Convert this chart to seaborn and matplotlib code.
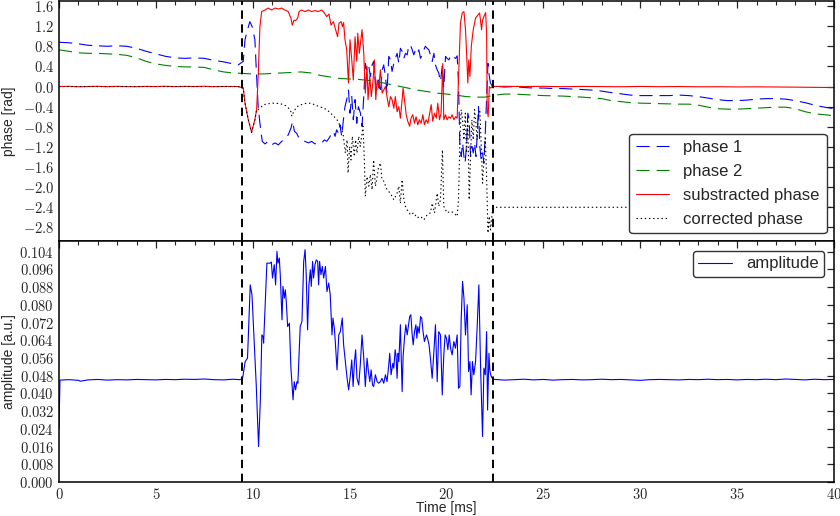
import numpy as np
import pandas as pd
import matplotlib
matplotlib.use("Agg")
import matplotlib.pyplot as plt
import seaborn as sns
from matplotlib.ticker import FuncFormatter, MultipleLocator

# ---------------- data ----------------
amp_t = [0.00, 0.05, 0.5, 1.0, 1.1, 1.5, 2.0, 2.5, 3.0, 3.5, 4.0, 4.5, 5.0, 5.5, 6.0, 6.5, 7.0, 7.5,
         8.0, 8.5, 9.0, 9.3, 9.47,
         9.61, 9.73, 9.87, 9.96, 10.04, 10.18, 10.30, 10.39, 10.47, 10.53, 10.56, 10.65, 10.73, 10.90,
         10.96, 11.02, 11.11, 11.18, 11.25, 11.30, 11.37, 11.42, 11.47, 11.51, 11.56, 11.63, 11.68, 11.73,
         11.80, 11.89, 11.97, 12.04, 12.08, 12.14, 12.21, 12.28, 12.33, 12.40, 12.45, 12.54, 12.63, 12.70,
         12.76, 12.83, 12.90, 12.97, 13.02, 13.09, 13.14, 13.21, 13.28, 13.35, 13.40, 13.45, 13.52, 13.59,
         13.66, 13.75, 13.83, 13.92, 14.00, 14.09, 14.14, 14.21, 14.26, 14.35, 14.44, 14.52, 14.62, 14.69,
         14.78, 14.87, 14.95, 15.04, 15.11, 15.18, 15.25, 15.31, 15.38, 15.47, 15.55, 15.64, 15.73, 15.81,
         15.90, 15.97, 16.04, 16.11, 16.18, 16.24, 16.33, 16.42, 16.50, 16.59, 16.67, 16.76, 16.85, 16.93,
         17.02, 17.07, 17.14, 17.23, 17.28, 17.35, 17.40, 17.45, 17.50, 17.54, 17.62, 17.71, 17.76, 17.83,
         17.90, 17.97, 18.05, 18.10, 18.16, 18.23, 18.28, 18.35, 18.42, 18.47, 18.52, 18.59, 18.66, 18.72,
         18.79, 18.86, 18.91, 18.97, 19.04, 19.10, 19.17, 19.26, 19.35, 19.43, 19.52, 19.60, 19.69, 19.78,
         19.86, 19.93, 20.00, 20.07, 20.14, 20.21, 20.29, 20.38, 20.46, 20.55, 20.62, 20.69, 20.76, 20.83,
         20.90, 20.98, 21.07, 21.14, 21.21, 21.27, 21.34, 21.41, 21.50, 21.58, 21.67, 21.76, 21.86, 21.93,
         22.00, 22.07, 22.12, 22.19, 22.24, 22.31, 22.39,
         22.5, 23.0, 23.5, 24.0, 24.5, 25.0, 25.5, 26.0, 26.5, 27.0, 27.5, 28.0, 28.5, 29.0, 29.5, 30.0,
         30.5, 31.0, 31.5, 32.0, 32.5, 33.0, 33.5, 34.0, 34.5, 35.0, 35.5, 36.0, 36.5, 37.0, 37.5, 38.0,
         38.5, 39.0, 39.5, 40.0]
amp_v = [0.0240, 0.0460, 0.0462, 0.0459, 0.0455, 0.0461, 0.0463, 0.0460, 0.0462, 0.0461, 0.0463, 0.0462,
         0.0461, 0.0463, 0.0462, 0.0464, 0.0463, 0.0465, 0.0462, 0.0461, 0.0464, 0.0462, 0.0465,
         0.0544, 0.0559, 0.0890, 0.0845, 0.0694, 0.0438, 0.0160, 0.0363, 0.0664, 0.0657, 0.0627, 0.0815,
         0.0988, 0.0988, 0.0993, 0.0921, 0.0981, 0.0890, 0.1041, 0.0988, 0.1011, 0.0936, 0.0815, 0.0732,
         0.0883, 0.0830, 0.0868, 0.0815, 0.0702, 0.0717, 0.0514, 0.0423, 0.0371, 0.0453, 0.0416, 0.0453,
         0.0446, 0.0589, 0.0702, 0.0725, 0.0996, 0.1049, 0.0936, 0.0687, 0.0890, 0.0958, 0.0883, 0.0996,
         0.0921, 0.0981, 0.1003, 0.0996, 0.0890, 0.0996, 0.0936, 0.0973, 0.0921, 0.0973, 0.0860, 0.0898,
         0.0845, 0.0664, 0.0740, 0.0694, 0.0634, 0.0506, 0.0664, 0.0679, 0.0740, 0.0619, 0.0544, 0.0468,
         0.0416, 0.0484, 0.0551, 0.0431, 0.0544, 0.0597, 0.0468, 0.0438, 0.0529, 0.0664, 0.0559, 0.0431,
         0.0559, 0.0499, 0.0453, 0.0506, 0.0438, 0.0431, 0.0484, 0.0453, 0.0446, 0.0453, 0.0468, 0.0446,
         0.0484, 0.0453, 0.0529, 0.0581, 0.0484, 0.0536, 0.0514, 0.0597, 0.0566, 0.0468, 0.0581, 0.0544,
         0.0710, 0.0408, 0.0566, 0.0649, 0.0710, 0.0664, 0.0717, 0.0747, 0.0755, 0.0664, 0.0619, 0.0679,
         0.0710, 0.0649, 0.0702, 0.0672, 0.0747, 0.0740, 0.0679, 0.0634, 0.0649, 0.0664, 0.0642, 0.0619,
         0.0559, 0.0468, 0.0589, 0.0710, 0.0453, 0.0679, 0.0664, 0.0393, 0.0574, 0.0664, 0.0649, 0.0597,
         0.0664, 0.0604, 0.0574, 0.0634, 0.0604, 0.0664, 0.0423, 0.0431, 0.0740, 0.0906, 0.0830, 0.0664,
         0.0800, 0.0499, 0.0544, 0.0393, 0.0544, 0.0484, 0.0544, 0.0694, 0.0890, 0.0514, 0.0205, 0.0514,
         0.0484, 0.0679, 0.0325, 0.0581, 0.0499, 0.0476, 0.0465,
         0.0463, 0.0460, 0.0462, 0.0464, 0.0461, 0.0463, 0.0460, 0.0462, 0.0463, 0.0461, 0.0462, 0.0464,
         0.0462, 0.0463, 0.0461, 0.0459, 0.0462, 0.0463, 0.0462, 0.0461, 0.0463, 0.0462, 0.0464, 0.0462,
         0.0463, 0.0461, 0.0463, 0.0462, 0.0464, 0.0462, 0.0465, 0.0463, 0.0461, 0.0464, 0.0462, 0.0463]

ph1_t = [0.0, 0.5, 1.0, 1.5, 2.0, 2.5, 3.0, 3.5, 4.0, 4.5, 5.0, 5.5, 6.0, 6.5, 7.0, 7.5, 8.0, 8.5, 9.0,
         9.25, 9.51, 9.60, 9.73, 9.85, 9.97, 10.11, 10.20, 10.28, 10.37, 10.49, 10.63, 10.80, 10.97, 11.15,
         11.32, 11.49, 11.66, 11.83, 11.97, 12.06, 12.15, 12.27, 12.39, 12.52, 12.70, 12.87, 13.04, 13.21,
         13.38, 13.56, 13.70, 13.82, 13.93, 14.04, 14.16, 14.25, 14.33, 14.42, 14.50, 14.59, 14.68, 14.76,
         14.85, 14.94, 15.02, 15.11, 15.19, 15.28, 15.37, 15.45, 15.56, 15.64, 15.73, 15.81, 15.90, 15.99,
         16.07, 16.16, 16.24, 16.33, 16.42, 16.50, 16.59, 16.68, 16.76, 16.85, 16.93, 17.02, 17.11, 17.19,
         17.28, 17.36, 17.45, 17.54, 17.62, 17.71, 17.80, 17.88, 17.97, 18.05, 18.14, 18.23, 18.31, 18.40,
         18.49, 18.57, 18.66, 18.74, 18.83, 18.91, 19.00, 19.09, 19.17, 19.26, 19.35, 19.43, 19.52, 19.60,
         19.69, 19.78, 19.86, 19.95, 20.03, 20.12, 20.21, 20.29, 20.38, 20.47, 20.55, 20.62, 20.69, 20.76,
         20.83, 20.90, 20.96, 21.03, 21.10, 21.17, 21.24, 21.31, 21.38, 21.45, 21.52, 21.59, 21.65, 21.72,
         21.79, 21.86, 21.93, 22.00, 22.07, 22.14, 22.21, 22.27, 22.36,
         23.0, 23.5, 24.0, 24.5, 25.0, 25.5, 26.0, 26.5, 27.0, 27.5, 28.0, 28.5, 29.0, 29.5, 30.0, 30.5,
         31.0, 31.5, 32.0, 32.5, 33.0, 33.5, 34.0, 34.5, 35.0, 35.5, 36.0, 36.5, 37.0, 37.5, 38.0, 38.5,
         39.0, 39.5, 40.0]
ph1_v = [0.88, 0.87, 0.85, 0.82, 0.81, 0.80, 0.81, 0.80, 0.76, 0.70, 0.65, 0.60, 0.57, 0.56, 0.57, 0.56,
         0.52, 0.49, 0.45, 0.43, 0.50, 0.93, 1.13, 1.29, 1.19, 0.93, 0.20, -0.40, -0.73, -1.09, -1.14,
         -1.09, -1.16, -1.12, -1.16, -1.09, -1.05, -0.96, -0.83, -0.69, -0.89, -0.93, -1.03, -1.06, -1.09,
         -1.12, -1.09, -1.14, -1.11, -1.12, -1.06, -1.09, -1.03, -0.96, -0.89, -0.99, -0.86, -0.93, -0.76,
         -0.99, -0.66, -0.40, -0.26, -0.07, -0.53, -0.20, -0.66, -0.26, -0.73, -0.40, -0.53, -0.79, -0.20,
         0.46, 0.30, 0.40, 0.20, 0.43, 0.50, 0.07, -0.07, 0.13, -0.13, 0.33, 0.43, 0.20, -0.13, 0.60, 0.53,
         0.30, 0.46, 0.56, 0.66, 0.46, 0.76, 0.70, 0.56, 0.66, 0.63, 0.80, 0.83, 0.73, 0.63, 0.73, 0.66,
         0.73, 0.56, 0.63, 0.73, 0.80, 0.76, 0.73, 0.63, 0.50, 0.66, 0.43, 0.33, 0.27, 0.10, 0.40, -0.03,
         0.60, 0.56, 0.53, 0.60, 0.55, 0.58, 0.56, 0.61, 0.07, -1.19, -1.39, -1.12, -1.39, -1.52, -1.19,
         -0.53, -0.66, -1.39, -1.19, -1.32, -1.12, -1.39, -0.93, -0.40, -1.19, -1.46, -1.32, -1.52, -0.93,
         -0.26, 0.46, 0.20, 0.07, 0.01,
         -0.01, 0.00, -0.02, -0.03, -0.03, -0.04, -0.04, -0.05, -0.06, -0.07, -0.09, -0.12, -0.145, -0.17,
         -0.18, -0.18, -0.18, -0.18, -0.17, -0.18, -0.20, -0.23, -0.26, -0.28, -0.28, -0.27, -0.25, -0.24,
         -0.24, -0.25, -0.28, -0.32, -0.37, -0.41, -0.44]

ph2_t = [0.0, 0.5, 1.0, 1.5, 2.0, 2.5, 3.0, 3.5, 4.0, 4.5, 5.0, 5.5, 6.0, 6.5, 7.0, 7.5, 8.0, 8.5, 9.0,
         9.5, 10.0, 10.5, 11.0, 11.5, 12.0, 12.5, 13.0, 13.5, 14.0, 14.5, 15.0, 15.5, 16.0, 16.5, 17.0,
         17.5, 18.0, 18.5, 19.0, 19.5, 20.0, 20.5, 21.0, 21.5, 22.0, 22.5, 23.0, 23.5, 24.0, 25.0, 26.0,
         27.0, 28.0, 28.5, 29.0, 29.5, 30.0, 31.0, 32.0, 32.5, 33.0, 33.5, 34.0, 34.5, 35.0, 35.5, 36.0,
         36.5, 37.0, 37.5, 38.0, 38.5, 39.0, 39.5, 40.0]
ph2_v = [0.73, 0.70, 0.67, 0.66, 0.66, 0.65, 0.64, 0.62, 0.57, 0.50, 0.45, 0.42, 0.40, 0.39, 0.39, 0.38,
         0.33, 0.29, 0.27, 0.26, 0.25, 0.25, 0.26, 0.27, 0.28, 0.29, 0.27, 0.22, 0.19, 0.16, 0.15, 0.14,
         0.12, 0.09, 0.05, 0.01, -0.03, -0.07, -0.10, -0.13, -0.15, -0.17, -0.20, -0.21, -0.21, -0.17,
         -0.15, -0.15, -0.16, -0.18, -0.19, -0.21, -0.24, -0.28, -0.30, -0.32, -0.33, -0.34, -0.35, -0.35,
         -0.37, -0.41, -0.44, -0.45, -0.45, -0.44, -0.43, -0.42, -0.41, -0.41, -0.44, -0.50, -0.54, -0.56,
         -0.58]

sub_t = [0.0, 0.5, 1.0, 1.5, 2.0, 2.5, 3.0, 3.5, 4.0, 4.5, 5.0, 5.5, 6.0, 6.5, 7.0, 7.5, 8.0, 8.5, 9.0,
         9.25, 9.51, 9.60, 9.77, 9.94, 10.11, 10.20, 10.28, 10.37, 10.46, 10.63, 10.80, 10.97, 11.15, 11.32,
         11.49, 11.66, 11.83, 11.97, 12.04, 12.13, 12.21, 12.32, 12.39, 12.52, 12.70, 12.87, 13.04, 13.21,
         13.38, 13.56, 13.70, 13.82, 13.93, 14.04, 14.16, 14.28, 14.38, 14.45, 14.56, 14.63, 14.69, 14.76,
         14.85, 14.94, 15.02, 15.11, 15.19, 15.28, 15.37, 15.42, 15.50,
         15.56, 15.64, 15.73, 15.81, 15.90, 15.95, 16.04, 16.12, 16.21, 16.28, 16.35, 16.42, 16.50, 16.59,
         16.68, 16.76, 16.85, 16.93, 17.02, 17.11, 17.19, 17.28, 17.36, 17.45, 17.54, 17.62, 17.71, 17.76,
         17.83, 17.92, 18.00, 18.10, 18.17, 18.26, 18.35, 18.43, 18.52, 18.60, 18.69, 18.78, 18.86, 18.95,
         19.04, 19.12, 19.21, 19.29, 19.38, 19.47, 19.55, 19.64, 19.72, 19.81, 19.86, 19.95, 20.03, 20.12,
         20.21, 20.29, 20.38, 20.47, 20.55, 20.64, 20.72, 20.81, 20.90, 20.98, 21.03, 21.10, 21.15, 21.21,
         21.28, 21.38, 21.50, 21.62, 21.71, 21.76, 21.81, 21.86, 21.93, 22.02, 22.07, 22.10, 22.15, 22.21,
         22.27, 22.36,
         23.0, 24.0, 25.0, 26.0, 27.0, 28.0, 29.0, 30.0, 31.0, 32.0, 33.0, 34.0, 35.0, 36.0, 37.0, 38.0,
         39.0, 40.0]
sub_v = [0.00, 0.005, -0.005, 0.00, 0.005, -0.003, 0.004, 0.00, -0.004, 0.003, 0.00, 0.005, -0.002,
         0.003, 0.00, 0.005, -0.003, 0.002, 0.00, 0.00, -0.03, -0.33, -0.66, -0.91, -0.66, -0.46, 0.20,
         1.19, 1.49, 1.52, 1.56, 1.52, 1.56, 1.54, 1.56, 1.52, 1.49, 1.36, 1.22, 1.32, 1.31, 1.36, 1.49,
         1.52, 1.49, 1.52, 1.49, 1.51, 1.49, 1.52, 1.46, 1.39, 1.44, 1.22, 1.29, 1.13, 0.99, 1.26, 1.29,
         1.19, 1.27, 0.93, 0.73, 0.07, 0.93, 0.53, 0.13, 0.99, 0.50, 1.06, 0.66,
         0.86, 1.13, 0.66, -0.13, 0.40, -0.26, 0.20, -0.20, 0.13, 0.53, -0.26, 0.13, -0.03, 0.33, -0.13,
         -0.07, 0.00, -0.20, -0.40, -0.20, -0.26, -0.43, -0.20, -0.50, -0.40, -0.63, -0.26, -0.03, -0.26,
         -0.56, -0.69, -0.79, -0.63, -0.56, -0.73, -0.60, -0.76, -0.66, -0.73, -0.56, -0.76, -0.66, -0.73,
         -0.56, -0.36, -0.69, -0.53, -0.63, -0.33, -0.66, -0.53, 0.46, -0.66, -0.56, -0.66, -0.60, -0.63,
         -0.56, -0.66, -0.60, -0.63, 0.40, 1.26, 1.46, 1.49, 1.13, 0.73, 0.07, 0.53, 0.20, 0.80, 1.13,
         1.36, 1.42, 1.46, 1.29, 1.13, 1.32, 1.39, 1.47, 1.06, -0.46, -0.60, 0.00, -0.03, 0.00,
         0.005, 0.00, 0.004, -0.003, 0.002, 0.00, -0.004, 0.002, -0.003, 0.00, -0.005, -0.004, -0.008,
         -0.006, -0.01, -0.012, -0.015, -0.02]

cor_t = [0.0, 9.25, 9.51, 9.60, 9.77, 9.94, 10.11, 10.20, 10.28, 10.56, 11.00, 11.42, 11.70, 11.94, 12.02,
         12.11, 12.28, 12.63, 13.00, 13.30, 13.60, 13.83, 14.18, 14.35, 14.52, 14.66, 14.78, 14.87, 14.92,
         15.00, 15.07, 15.14, 15.24, 15.31, 15.38, 15.47, 15.55, 15.64, 15.69, 15.76, 15.81, 15.90, 15.99,
         16.07, 16.16, 16.24, 16.33, 16.42, 16.50, 16.59, 16.67, 16.76, 16.93, 17.10, 17.28, 17.45, 17.54,
         17.62, 17.71, 17.80, 17.88, 17.97, 18.14, 18.31, 18.48, 18.66, 18.83, 19.00, 19.17, 19.26, 19.38,
         19.52, 19.60, 19.69, 19.79, 19.86, 20.03, 20.21, 20.38, 20.55, 20.62, 20.69, 20.76, 20.83, 20.90,
         20.97, 21.03, 21.10, 21.17, 21.24, 21.31, 21.38, 21.45, 21.52, 21.58, 21.65, 21.72, 21.79, 21.86,
         21.93, 22.00, 22.07, 22.14, 22.21, 22.27, 22.36, 22.45, 40.0]
cor_v = [0.00, 0.00, -0.03, -0.33, -0.66, -0.91, -0.66, -0.46, -0.46, -0.36, -0.33, -0.34, -0.38, -0.46,
         -0.59, -0.50, -0.40, -0.34, -0.33, -0.38, -0.42, -0.46, -0.59, -0.66, -0.79, -0.93, -1.32, -1.06,
         -1.72, -1.19, -1.46, -0.99, -1.39, -1.06, -1.32, -0.99, -1.19, -0.93, -0.79, -1.46, -2.18, -1.79,
         -1.98, -1.75, -2.05, -1.46, -1.98, -1.79, -1.59, -1.52, -1.85, -1.88, -2.05, -2.12, -2.25, -2.12,
         -1.98, -2.32, -1.85, -2.25, -2.38, -2.45, -2.55, -2.51, -2.61, -2.58, -2.65, -2.55, -2.51, -2.32,
         -2.51, -2.12, -2.38, -2.25, -1.26, -2.38, -2.51, -2.48, -2.51, -2.58, -2.25, -1.06, -0.46, -0.66,
         -1.06, -0.53, -1.32, -0.66, -2.25, -1.39, -0.66, -1.06, -0.46, -0.73, -1.06, -0.53, -0.46, -1.13,
         -1.92, -1.46, -0.99, -1.79, -2.91, -2.58, -2.85, -2.51, -2.40, -2.40]

event_times = [9.47, 22.40]

# ---------------- style ----------------
sns.set_style("white")
plt.rcParams["font.family"] = ["Liberation Sans", "DejaVu Sans"]
plt.rcParams["mathtext.fontset"] = "cm"
plt.rcParams["lines.scale_dashes"] = False

fig = plt.figure(figsize=(8.4, 5.16), dpi=100)
W, H = 840.0, 516.0
L, R = 59, 834
ax1 = fig.add_axes([L / W, 1 - 241 / H, (R - L) / W, 240 / H])
ax2 = fig.add_axes([L / W, 1 - 482 / H, (R - L) / W, 241 / H], sharex=ax1)

dash_long = (0, (9.5, 5.0))
dotted = (0, (1.0, 2.0))

sns.lineplot(x=ph1_t, y=ph1_v, ax=ax1, sort=False, estimator=None, color="#0000ff",
             lw=0.8, linestyle=dash_long, label="phase 1")
sns.lineplot(x=ph2_t, y=ph2_v, ax=ax1, sort=False, estimator=None, color="#008000",
             lw=0.8, linestyle=dash_long, label="phase 2")
sns.lineplot(x=sub_t, y=sub_v, ax=ax1, sort=False, estimator=None, color="#ff0000",
             lw=0.8, label="substracted phase")
sns.lineplot(x=cor_t, y=cor_v, ax=ax1, sort=False, estimator=None, color="black",
             lw=0.8, linestyle=dotted, label="corrected phase")

sns.lineplot(x=amp_t, y=amp_v, ax=ax2, sort=False, estimator=None, color="#0000ff",
             lw=0.8, label="amplitude")

for ax in (ax1, ax2):
    for et in event_times:
        ax.axvline(et, color="black", lw=1.4, linestyle=(0, (6, 4)))
    ax.set_xlim(0, 40)
    ax.xaxis.set_major_locator(MultipleLocator(5))
    ax.xaxis.set_minor_locator(MultipleLocator(1))
    ax.tick_params(which="both", direction="in", top=True, right=True, labelsize=10.5)
    ax.tick_params(which="major", length=5, width=0.9)
    ax.tick_params(which="minor", length=3, width=0.8)
    for s in ax.spines.values():
        s.set_color("black")
        s.set_linewidth(1.1)
    ax.grid(False)

ax1.set_ylim(-3.07, 1.70)
ax1.yaxis.set_major_locator(MultipleLocator(0.4))
ax1.yaxis.set_major_formatter(FuncFormatter(lambda v, p: r"$%.1f$" % (0.0 if abs(v) < 1e-9 else v)))
ax1.tick_params(axis="x", labelbottom=False)
ax1.set_xlabel("")
ax1.set_ylabel("phase [rad]", fontsize=10)
ax1.yaxis.set_label_coords(-0.055, 0.5)

ax2.set_ylim(0, 0.1088)
ax2.yaxis.set_major_locator(MultipleLocator(0.008))
ax2.yaxis.set_major_formatter(FuncFormatter(lambda v, p: r"$%.3f$" % v))
ax2.xaxis.set_major_formatter(FuncFormatter(lambda v, p: r"$%d$" % round(v)))
ax2.set_ylabel("amplitude [a.u.]", fontsize=10)
ax2.yaxis.set_label_coords(-0.055, 0.5)
ax2.set_xlabel("Time [ms]", fontsize=10)
ax2.xaxis.set_label_coords(0.5, -0.08)

leg_kw = dict(fontsize=12, frameon=True, fancybox=True, framealpha=1, edgecolor="0.2",
              handlelength=2.0, handletextpad=0.85)
leg1 = ax1.legend(loc="lower right", labelspacing=0.53, borderpad=0.4, borderaxespad=0.45, **leg_kw)
leg1.get_frame().set_linewidth(1.0)
leg2 = ax2.legend(loc="upper right", borderpad=0.35, borderaxespad=0.58, **leg_kw)
leg2.get_frame().set_linewidth(1.0)

fig.savefig("out.png", dpi=100)
